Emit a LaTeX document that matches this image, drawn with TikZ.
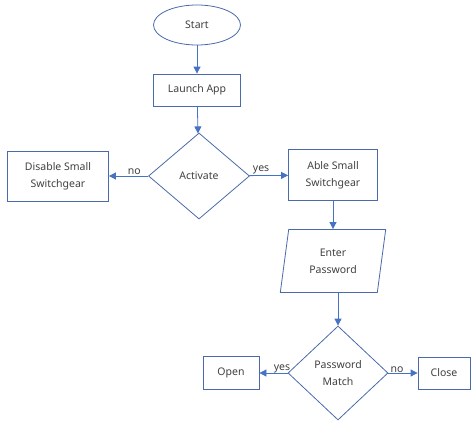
\documentclass[tikz,border=0pt]{standalone}
\usepackage{fontspec}
\setmainfont{Noto Sans}
\usepackage{tikz}
\usetikzlibrary{shapes.geometric,arrows.meta}

\definecolor{flowblue}{RGB}{68,114,196}
\definecolor{edgeblue}{RGB}{74,106,170}
\definecolor{txtgray}{RGB}{64,64,64}

\begin{document}
\begin{tikzpicture}[x=1pt,y=-1pt,
    font=\fontsize{10.5}{17}\selectfont, text=txtgray,
    every node/.style={draw=edgeblue,thick,align=center,inner sep=1pt},
    procbox/.style={rectangle},
    decision/.style={diamond,inner sep=0pt},
    iobox/.style={trapezium,trapezium left angle=80,trapezium right angle=100,
      trapezium stretches=true},
    flow/.style={draw=flowblue,thick,-{Triangle[width=7pt,length=7pt]}},
    tag/.style={draw=none,fill=none}]
    \useasboundingbox (0,0) rectangle (473,420);

    % main column
    \node[ellipse,minimum width=87pt,minimum height=40pt] (start) at (197,25) {Start};
    \node[procbox,minimum width=87pt,minimum height=32pt] (launch) at (197,90) {Launch App};
    \node[decision,minimum width=101pt,minimum height=86pt] (activate) at (199,176) {Activate};

    % branches of the activation test
    \node[procbox,minimum width=101pt,minimum height=50pt] (disable) at (58,176) {Disable Small\\Switchgear};
    \node[procbox,minimum width=89pt,minimum height=51pt] (able) at (333,175) {Able Small\\Switchgear};

    % password check
    \node[iobox,minimum width=106pt,minimum height=63pt] (enter) at (333,261) {Enter\\Password};
    \node[decision,minimum width=100pt,minimum height=94pt] (match) at (338,373) {Password\\Match};
    \node[procbox,minimum width=56pt,minimum height=33pt] (open) at (231,373) {Open};
    \node[procbox,minimum width=52pt,minimum height=32pt] (close) at (444,373) {Close};

    % connectors
    \draw[flow] (start) -- (launch);
    \draw[flow] (launch) -- (activate);
    \draw[flow] (activate) -- (disable) node[tag,pos=0.35,above] {no};
    \draw[flow] (activate) -- (able) node[tag,pos=0.3,above] {yes};
    \draw[flow] (able) -- (enter);
    \draw[flow] (match.north |- enter.south) -- (match.north);
    \draw[flow] (match) -- (open) node[tag,pos=0.2,above,inner sep=0pt] {yes};
    \draw[flow] (match) -- (close) node[tag,pos=0.3,above,inner sep=0pt] {no};
\end{tikzpicture}
\end{document}
